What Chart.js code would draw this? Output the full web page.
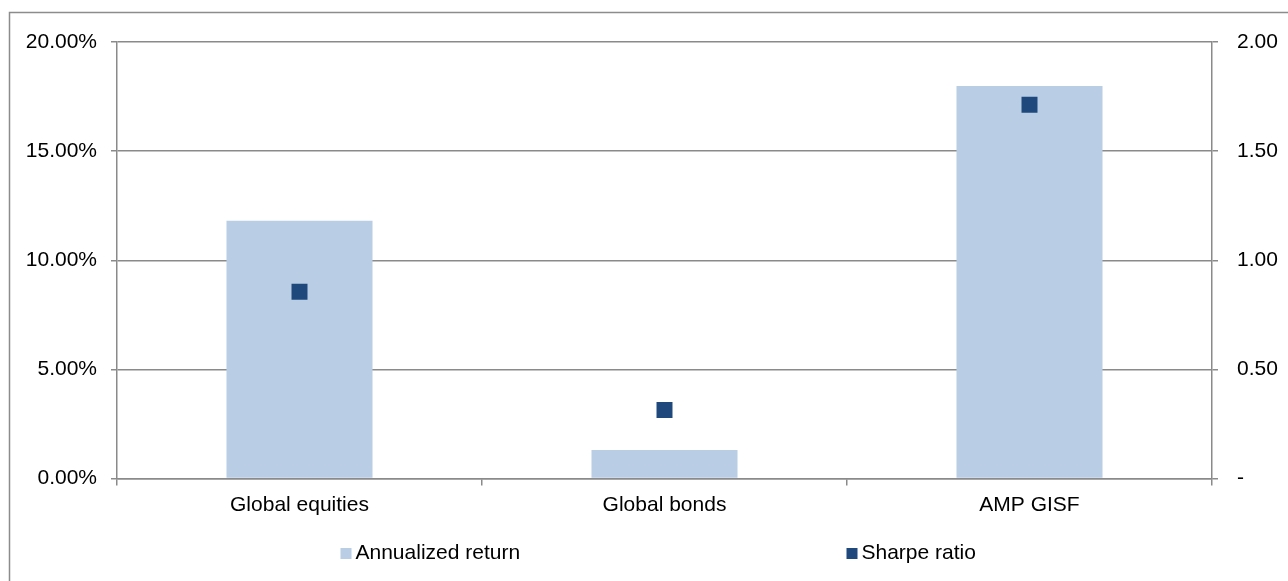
<!DOCTYPE html>
<html>
<head>
<meta charset="utf-8">
<script src="https://cdn.jsdelivr.net/npm/chart.js@4.4.1/dist/chart.umd.min.js"></script>
<style>
  html, body { margin: 0; padding: 0; background: #fff; }
  #wrap { width: 1288px; height: 581px; }
</style>
</head>
<body>
<div id="wrap"><canvas id="chart" width="1288" height="581"></canvas></div>
<script>
// Data
const categories = ["Global equities", "Global bonds", "AMP GISF"];
const annualizedReturn = [11.81, 1.31, 17.98];   // % (left axis)
const sharpeRatio = [0.856, 0.314, 1.713];       // right axis
const returnTicks = [0, 5, 10, 15, 20];
const sharpeTicks = [0, 0.5, 1, 1.5, 2];

const barColor = "#B9CDE5";
const markerColor = "#1F497D";
const axisGray = "#8A8A8A";
const fontFamily = "'Liberation Sans', Arial, sans-serif";

// outer frame like the Excel chart border
const framePlugin = {
    id: "frame",
    beforeDraw(chart) {
        const ctx = chart.ctx;
        ctx.save();
        ctx.fillStyle = "#fff";
        ctx.fillRect(0, 0, chart.width, chart.height);
        ctx.strokeStyle = "#8C8C8C";
        ctx.lineWidth = 1.5;
        ctx.strokeRect(9.5, 12.5, chart.width + 20, chart.height + 20);
        ctx.restore();
    }
};

// legend drawn by hand so the items can sit far apart
const legendPlugin = {
    id: "wideLegend",
    afterDraw(chart) {
        const ctx = chart.ctx;
        const mid = (chart.chartArea.left + chart.chartArea.right) / 2;
        const y = 553;
        const items = [
            { text: "Annualized return", color: barColor, x: mid - 324 },
            { text: "Sharpe ratio", color: markerColor, x: mid + 182 }
        ];
        ctx.save();
        ctx.font = "21px " + fontFamily;
        ctx.textBaseline = "middle";
        ctx.textAlign = "left";
        items.forEach(it => {
            ctx.fillStyle = it.color;
            ctx.fillRect(it.x, y - 5, 11, 11);
            ctx.fillStyle = "#000";
            ctx.fillText(it.text, it.x + 15, y);
        });
        ctx.restore();
    }
};

Chart.defaults.font.family = fontFamily;
Chart.defaults.font.size = 21;
Chart.defaults.color = "#000";

new Chart(document.getElementById("chart"), {
    data: {
        labels: categories,
        datasets: [
            {
                type: "line",
                label: "Sharpe ratio",
                data: sharpeRatio,
                yAxisID: "y2",
                showLine: false,
                pointStyle: "rect",
                pointRadius: 11.3,
                pointBackgroundColor: markerColor,
                pointBorderColor: markerColor,
                pointBorderWidth: 0,
                order: 1
            },
            {
                type: "bar",
                label: "Annualized return",
                data: annualizedReturn,
                yAxisID: "y",
                backgroundColor: barColor,
                borderWidth: 0,
                categoryPercentage: 1,
                barPercentage: 0.4,
                order: 2
            }
        ]
    },
    options: {
        responsive: false,
        animation: false,
        devicePixelRatio: 1,
        layout: { padding: { top: 42, left: 0, right: 0, bottom: 0 } },
        plugins: {
            legend: { display: false },
            tooltip: { enabled: false }
        },
        scales: {
            x: {
                offset: true,
                grid: {
                    offset: true,
                    drawOnChartArea: false,
                    drawTicks: true,
                    tickLength: 7,
                    color: axisGray,
                    lineWidth: 1.5
                },
                border: { color: axisGray, width: 1.5 },
                ticks: { padding: 7, maxRotation: 0 },
                afterFit(scale) { scale.height = 581 - 478.5; }
            },
            y: {
                position: "left",
                min: 0,
                max: 20,
                afterBuildTicks(scale) { scale.ticks = returnTicks.map(v => ({ value: v })); },
                grid: { color: axisGray, lineWidth: 1.5, tickLength: 6 },
                border: { color: axisGray, width: 1.5 },
                ticks: {
                    padding: 14,
                    callback: v => v.toFixed(2) + "%"
                },
                afterFit(scale) { scale.width = 117; }
            },
            y2: {
                position: "right",
                min: 0,
                max: 2,
                afterBuildTicks(scale) { scale.ticks = sharpeTicks.map(v => ({ value: v })); },
                grid: { drawOnChartArea: false, color: axisGray, lineWidth: 1.5, tickLength: 6 },
                border: { color: axisGray, width: 1.5 },
                ticks: {
                    padding: 19,
                    callback: v => v === 0 ? "-" : v.toFixed(2)
                },
                afterFit(scale) { scale.width = 1288 - 1212; }
            }
        }
    },
    plugins: [framePlugin, legendPlugin]
});
</script>
</body>
</html>
